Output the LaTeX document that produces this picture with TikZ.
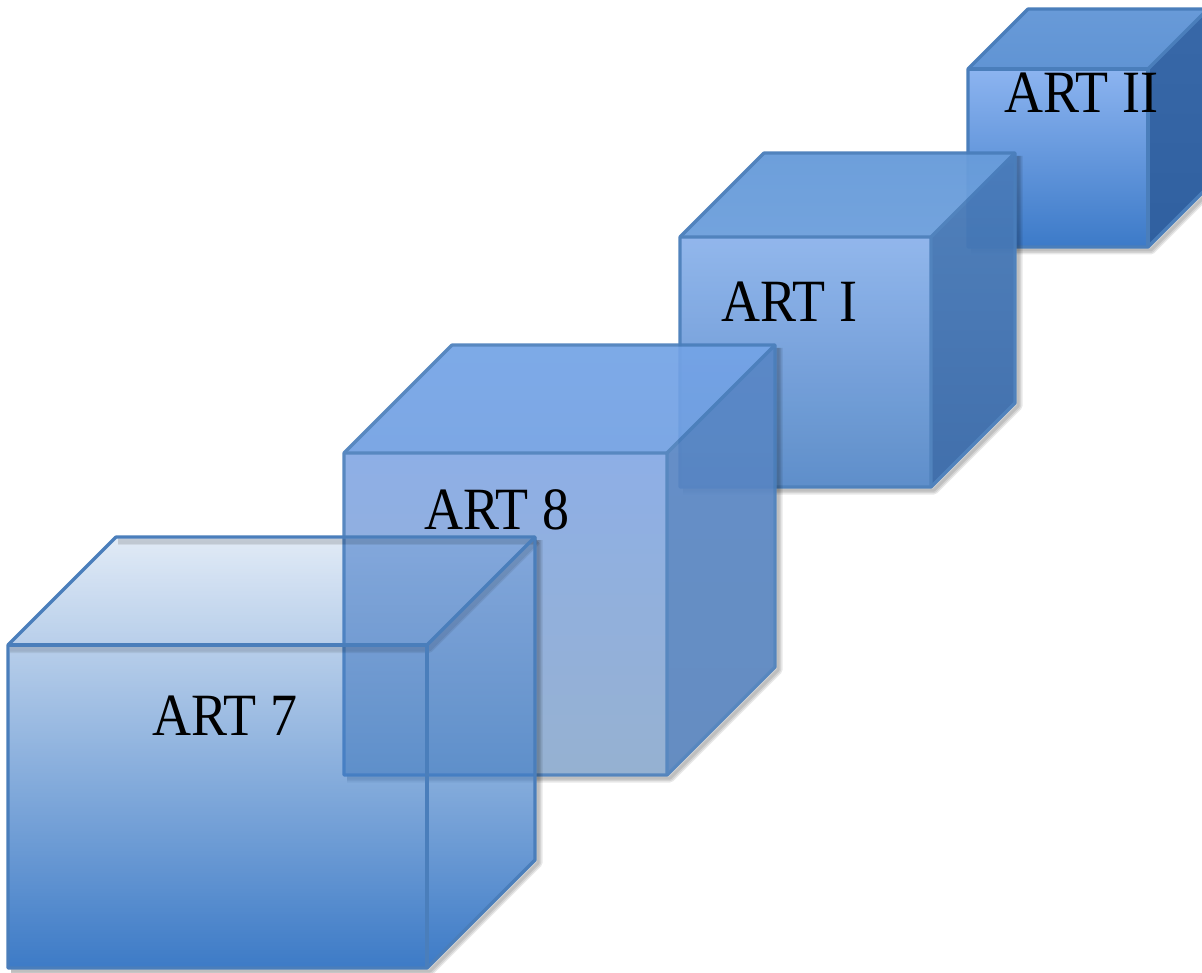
\documentclass[tikz,border=0pt]{standalone}
\usepackage{fontspec}
\setmainfont{Liberation Serif}
\usetikzlibrary{fadings}
\tikzfading[name=artfade, top color=transparent!85, bottom color=transparent!0]
\definecolor{edgeblue}{HTML}{4A7EBB}
\definecolor{deepblue}{HTML}{3D7BC7}
\newcommand{\mkcube}[6]{%
  \coordinate (#1-ftl) at (#2,#3);
  \coordinate (#1-ftr) at (#2+#4,#3);
  \coordinate (#1-fbr) at (#2+#4,#3+#5);
  \coordinate (#1-fbl) at (#2,#3+#5);
  \coordinate (#1-btl) at (#2+#6,#3-#6);
  \coordinate (#1-btr) at (#2+#4+#6,#3-#6);
  \coordinate (#1-bbr) at (#2+#4+#6,#3+#5-#6);
}
\newcommand{\cubeshadow}[1]{%
  \foreach \lw in {9,6,3}{
    \draw[black, draw opacity=0.09, line width=\lw pt, line join=round]
      ([shift={(3,3)}]#1-btr) -- ([shift={(3,3)}]#1-bbr) -- ([shift={(3,3)}]#1-fbr) -- ([shift={(3,3)}]#1-fbl);
  }
}
\newcommand{\cubeedges}[1]{%
  \draw[cubeedge] (#1-fbl) -- (#1-ftl) -- (#1-btl) -- (#1-btr) -- (#1-bbr) -- (#1-fbr) -- cycle;
  \draw[cubeedge] (#1-ftl) -- (#1-ftr) -- (#1-fbr);
  \draw[cubeedge] (#1-ftr) -- (#1-btr);
}
\newcommand{\edgeshadow}[1]{%
  \foreach \lw in {8,5}{
    \draw[black, draw opacity=0.07, line width=\lw pt, line join=round]
      ([shift={(2,4)}]#1-btl) -- ([shift={(2,4)}]#1-btr);
    \draw[black, draw opacity=0.07, line width=\lw pt, line join=round]
      ([shift={(2,4)}]#1-ftl) -- ([shift={(2,4)}]#1-ftr) -- ([shift={(2,4)}]#1-btr);
  }
}
\tikzset{
  cubeedge/.style={draw=edgeblue, line width=3.2pt, line join=round},
  artlabel/.style={anchor=base west, inner sep=0pt, font=\fontsize{60}{60}\selectfont, xscale=0.9, text=black}
}
\begin{document}
\begin{tikzpicture}[x=1pt, y=-1pt]
\useasboundingbox (0,0) rectangle (1202,973);
\fill[white] (0,0) rectangle (1202,973);

% ---------- ART II ----------
\mkcube{c2}{968}{69}{180}{178}{60}
\cubeshadow{c2}
\fill[top color={rgb,255:red,104;green,154;blue,216}, bottom color={rgb,255:red,96;green,148;blue,212}] (c2-ftl) -- (c2-btl) -- (c2-btr) -- (c2-ftr) -- cycle;
\fill[top color={rgb,255:red,56;green,104;blue,168}, bottom color={rgb,255:red,48;green,96;blue,160}] (c2-ftr) -- (c2-btr) -- (c2-bbr) -- (c2-fbr) -- cycle;
\fill[top color={rgb,255:red,140;green,180;blue,240}, bottom color={rgb,255:red,60;green,122;blue,200}] (c2-ftl) rectangle (c2-fbr);
\cubeedges{c2}
\node[artlabel] (t2) at (1004,113) {ART II};

% ---------- ART I ----------
\mkcube{c1}{680}{237}{251}{250}{84}
\cubeshadow{c1}
\begin{scope}[opacity=0.96, transparency group]
\fill[top color={rgb,255:red,104;green,156;blue,218}, bottom color={rgb,255:red,110;green,160;blue,220}] (c1-ftl) -- (c1-btl) -- (c1-btr) -- (c1-ftr) -- cycle;
\fill[top color={rgb,255:red,74;green,124;blue,186}, bottom color={rgb,255:red,58;green,106;blue,168}] (c1-ftr) -- (c1-btr) -- (c1-bbr) -- (c1-fbr) -- cycle;
\fill[top color={rgb,255:red,142;green,180;blue,236}, bottom color={rgb,255:red,88;green,138;blue,200}] (c1-ftl) rectangle (c1-fbr);
\cubeedges{c1}
\end{scope}
\node[artlabel] (t1) at (721,322) {ART I};

% ---------- ART 8 ----------
\mkcube{c8}{344}{453}{323}{322}{108}
\cubeshadow{c8}
\begin{scope}[opacity=0.92, transparency group]
\fill[top color={rgb,255:red,115;green,163;blue,230}, bottom color={rgb,255:red,113;green,160;blue,226}] (c8-ftl) -- (c8-btl) -- (c8-btr) -- (c8-ftr) -- cycle;
\fill[top color={rgb,255:red,88;green,134;blue,198}, bottom color={rgb,255:red,88;green,132;blue,188}] (c8-ftr) -- (c8-btr) -- (c8-bbr) -- (c8-fbr) -- cycle;
\fill[top color={rgb,255:red,133;green,169;blue,228}, bottom color={rgb,255:red,141;green,171;blue,206}] (c8-ftl) rectangle (c8-fbr);
\cubeedges{c8}
\end{scope}
\node[artlabel] (t8) at (424,529) {ART 8};

% ---------- ART 7 ----------
\mkcube{c7}{8}{645}{419}{323}{108}
\cubeshadow{c7}
\fill[deepblue, path fading=artfade] (c7-fbl) -- (c7-ftl) -- (c7-btl) -- (c7-btr) -- (c7-bbr) -- (c7-fbr) -- cycle;
\edgeshadow{c7}
\cubeedges{c7}
\node[artlabel] (t7) at (152,735) {ART 7};
\end{tikzpicture}
\end{document}
